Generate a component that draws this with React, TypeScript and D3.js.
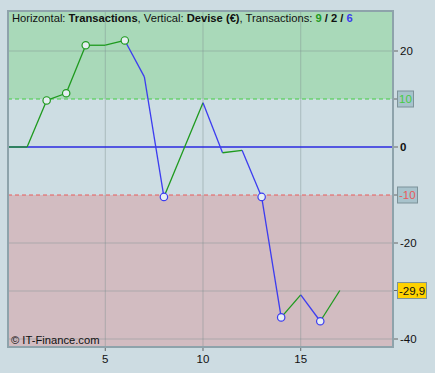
import React from "react";
import * as d3 from "d3";

const xs = [0, 1, 2, 3, 4, 5, 6, 7, 8, 10, 11, 12, 13, 14, 15, 16, 17];
const values = [0, 0, 9.7, 11.2, 21.2, 21.2, 22.2, 14.6, -10.4, 9.2, -1.2, -0.7, -10.4, -35.5, -30.8, -36.3, -29.9];
const circleXs = [2, 3, 4, 6, 8, 13, 14, 16];
const yTicks = [20, 0, -20, -40];
const gridY = [20, -20, -30, -40];
const xTicks = [5, 10, 15];
const upperLevel = 10;
const lowerLevel = -10;
const lastValue = -29.9;

const W = 435, H = 373;
const PL = 8, PR = 393, PT = 11, PB = 347;

export default function App() {
  const x = d3.scaleLinear().domain([0, 19.67]).range([7.55, 392]);
  const y = d3.scaleLinear().domain([0, -40]).range([147, 339]);
  const font = "'Liberation Sans', Arial, sans-serif";

  const segs = [] as { x1: number; y1: number; x2: number; y2: number; c: string }[];
  for (let i = 0; i < xs.length - 1; i++) {
    const up = values[i + 1] >= values[i];
    segs.push({ x1: x(xs[i]), y1: y(values[i]), x2: x(xs[i + 1]), y2: y(values[i + 1]), c: up ? "#1e9a1e" : "#3c3cf0" });
  }
  const circles = circleXs.map((cx) => {
    const i = xs.indexOf(cx);
    const prev = values[i - 1];
    const green = prev !== undefined && values[i] >= prev;
    return { cx: x(cx), cy: y(values[i]), c: green ? "#1e9a1e" : "#3c3cf0" };
  });

  const green = "#a9d9b9";
  const mid = "#cddde3";
  const red = "#d2bcc1";

  return (
    <svg width={W} height={H} style={{ position: "absolute", left: 0, top: 0, display: "block" }} fontFamily={font}>
      <rect x={0} y={0} width={W} height={H} fill="#cddce2" />
      <defs>
        <clipPath id="plot">
          <rect x={PL} y={PT} width={PR - PL} height={PB - PT} />
        </clipPath>
      </defs>
      <g clipPath="url(#plot)">
        <rect x={PL} y={PT} width={PR - PL} height={y(upperLevel) - PT} fill={green} />
        <rect x={PL} y={y(upperLevel)} width={PR - PL} height={y(lowerLevel) - y(upperLevel)} fill={mid} />
        <rect x={PL} y={y(lowerLevel)} width={PR - PL} height={PB - y(lowerLevel)} fill={red} />
        {xTicks.map((t) => (
          <line key={"gx" + t} x1={x(t)} x2={x(t)} y1={PT} y2={PB} stroke="#7f8f8f" strokeOpacity={0.45} />
        ))}
        {gridY.map((t) => (
          <line key={"gy" + t} x1={PL} x2={PR} y1={y(t)} y2={y(t)} stroke="#7f8f8f" strokeOpacity={0.45} />
        ))}
        <line x1={PL} x2={PR} y1={y(upperLevel)} y2={y(upperLevel)} stroke="#44cc44" strokeDasharray="4,3" />
        <line x1={PL} x2={PR} y1={y(lowerLevel)} y2={y(lowerLevel)} stroke="#e85a5a" strokeDasharray="4,3" />
        <line x1={PL} x2={PR} y1={y(0)} y2={y(0)} stroke="#2a2ae0" strokeWidth={1.3} />
        {segs.map((s, i) => (
          <line key={"s" + i} x1={s.x1} y1={s.y1} x2={s.x2} y2={s.y2} stroke={s.c} strokeWidth={1.3} />
        ))}
        {circles.map((c, i) => (
          <circle key={"c" + i} cx={c.cx} cy={c.cy} r={3.7} fill="#e6eef2" stroke={c.c} strokeWidth={1.2} />
        ))}
        <text x={11} y={344} fontSize={11.2} fill="#111">© IT-Finance.com</text>
      </g>
      <rect x={PL} y={PT} width={PR - PL} height={PB - PT} fill="none" stroke="#8ea3ab" strokeWidth={2} />
      <text x={12} y={22} fontSize={11.2} fill="#111">
        <tspan>Horizontal: </tspan>
        <tspan fontWeight="bold">Transactions</tspan>
        <tspan>, Vertical: </tspan>
        <tspan fontWeight="bold">Devise (€)</tspan>
        <tspan>, Transactions: </tspan>
        <tspan fontWeight="bold" fill="#1e9a1e">9</tspan>
        <tspan fontWeight="bold"> / 2 / </tspan>
        <tspan fontWeight="bold" fill="#3c3cf0">6</tspan>
      </text>
      {yTicks.map((t) => (
        <g key={"yt" + t}>
          <line x1={PR + 1} x2={PR + 5} y1={y(t)} y2={y(t)} stroke="#666" />
          <text x={PR + 7} y={y(t) + 4} fontSize={11.5} fill="#111" fontWeight={t === 0 ? "bold" : "normal"}>
            {t}
          </text>
        </g>
      ))}
      {xTicks.map((t) => (
        <g key={"xt" + t}>
          <line x1={x(t)} x2={x(t)} y1={PB + 1} y2={PB + 4} stroke="#666" />
          <text x={x(t)} y={363} fontSize={11.5} fill="#111" textAnchor="middle">{t}</text>
        </g>
      ))}
      {[
        { v: upperLevel, label: "10", fill: "#a8c3cc", color: "#44cc44", w: 16 },
        { v: lowerLevel, label: "-10", fill: "#a8c3cc", color: "#e85a5a", w: 20 },
        { v: lastValue, label: "-29,9", fill: "#ffd200", color: "#111", w: 29 },
      ].map((b) => (
        <g key={"b" + b.label}>
          <line x1={PR + 1} x2={PR + 5} y1={y(b.v)} y2={y(b.v)} stroke="#666" />
          <rect x={397.5} y={y(b.v) - 8} width={b.w} height={16} fill={b.fill} stroke="#7d9299" />
          <text x={399} y={y(b.v) + 4} fontSize={11.5} fill={b.color}>{b.label}</text>
        </g>
      ))}
    </svg>
  );
}
